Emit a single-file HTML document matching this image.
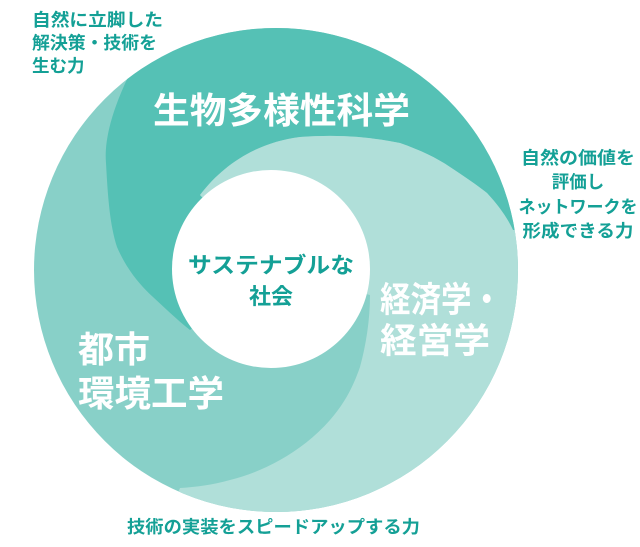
<!DOCTYPE html>
<html><head><meta charset="utf-8">
<style>
html,body{margin:0;padding:0;background:#fff;}
svg{display:block;}
text{font-family:"Liberation Sans","Noto Sans CJK JP",sans-serif;}
</style></head>
<body>
<svg width="640" height="547" viewBox="0 0 640 547" xmlns="http://www.w3.org/2000/svg">
<defs>
<clipPath id="oc"><circle cx="276" cy="270" r="242"/></clipPath>
</defs>
<g clip-path="url(#oc)">
<rect x="0" y="0" width="640" height="547" fill="#88d0c8"/>
<path fill="#55c1b5" d="M150,0 L130,73 C112,110 104,140 106,163 C108,200 110,225 117,247 C127,270 140,285 153,297 C165,308 175,318 190,330 L271,269 L200,195 C225,162 260,142 300,137 C340,134 370,137 400,143 C420,150 437,158 450,167 C465,177 477,185 487,193 C498,205 507,217 513,230 L560,240 L600,0 Z"/>
<path fill="#b0dfd9" d="M600,230 L513,230 C507,217 498,205 487,193 C477,185 465,177 450,167 C437,158 420,150 400,143 C370,137 340,134 300,137 C260,142 225,162 200,195 L271,269 L370,295 C370,320 366,345 360,367 C352,390 343,405 330,420 C315,437 298,450 280,460 C262,470 246,476 230,480 C212,485 196,487 180,488 L150,560 L640,560 Z"/>
</g>
<circle cx="271" cy="269" r="99" fill="#fff"/>
<g fill="#fff" font-weight="bold">
<text x="153" y="123" font-size="36" textLength="257" lengthAdjust="spacingAndGlyphs">生物多様性科学</text>
<text x="380" y="312" font-size="35" textLength="122" lengthAdjust="spacingAndGlyphs">経済学・</text>
<text x="380" y="353" font-size="35" textLength="110" lengthAdjust="spacingAndGlyphs">経営学</text>
<text x="78" y="362" font-size="36">都市</text>
<text x="78" y="406" font-size="36" textLength="146" lengthAdjust="spacingAndGlyphs">環境工学</text>
</g>
<g fill="#14a096" font-weight="bold">
<text x="271" y="273" font-size="22" text-anchor="middle" textLength="166" lengthAdjust="spacingAndGlyphs">サステナブルな</text>
<text x="271" y="304" font-size="22" text-anchor="middle">社会</text>
</g>
<g fill="#14a096" font-size="17.5" font-weight="bold">
<text x="32" y="26" textLength="131" lengthAdjust="spacingAndGlyphs">自然に立脚した</text>
<text x="32" y="49" textLength="125" lengthAdjust="spacingAndGlyphs">解決策・技術を</text>
<text x="32" y="72">生む力</text>
<text x="578" y="164" text-anchor="middle" textLength="114" lengthAdjust="spacingAndGlyphs">自然の価値を</text>
<text x="578" y="188" text-anchor="middle">評価し</text>
<text x="578" y="213" text-anchor="middle" textLength="119" lengthAdjust="spacingAndGlyphs">ネットワークを</text>
<text x="578" y="237" text-anchor="middle" textLength="111" lengthAdjust="spacingAndGlyphs">形成できる力</text>
<text x="127" y="533" textLength="293" lengthAdjust="spacingAndGlyphs">技術の実装をスピードアップする力</text>
</g>
</svg>
</body></html>
